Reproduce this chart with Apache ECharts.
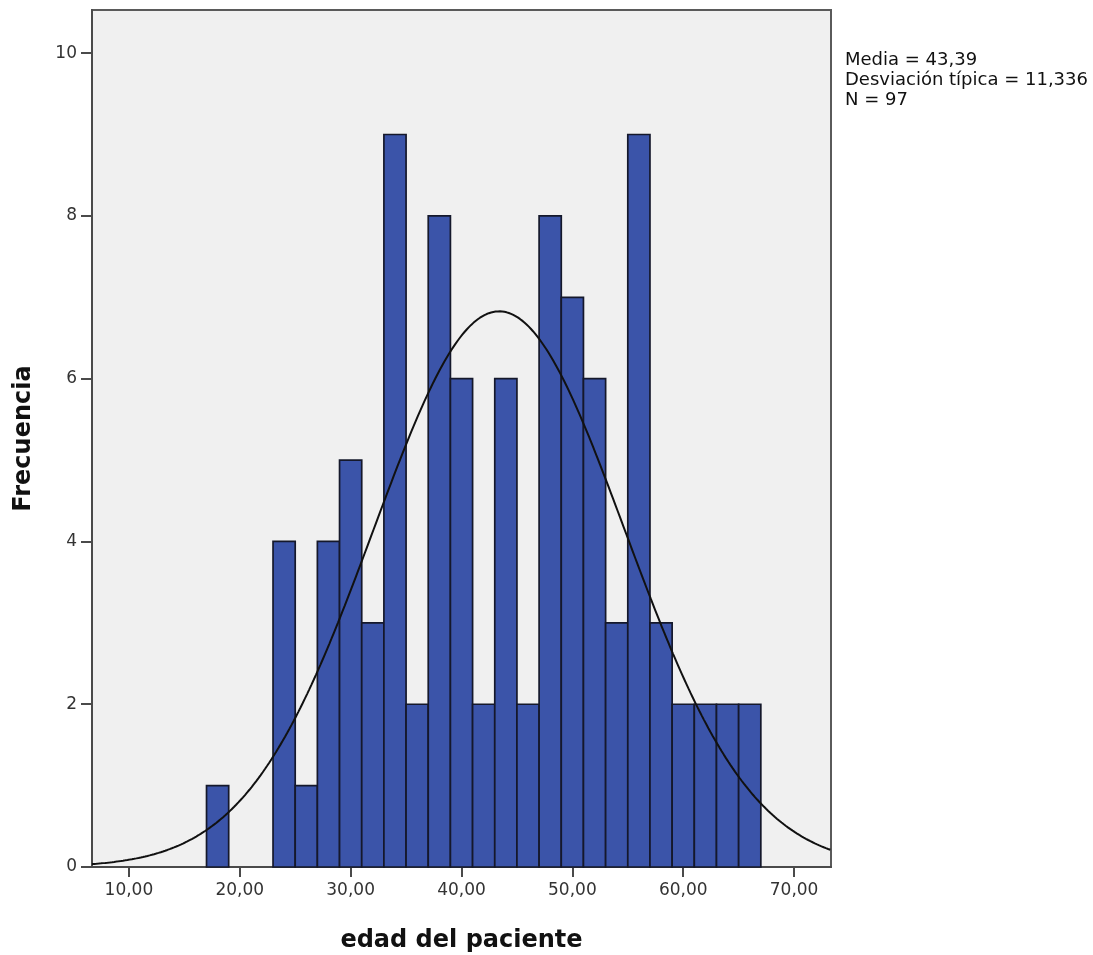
<!DOCTYPE html>
<html>
<head>
<meta charset="utf-8">
<script src="https://cdn.jsdelivr.net/npm/echarts@6/dist/echarts.min.js"></script>
<style>
  html, body { margin: 0; padding: 0; background: #fff; }
  #chart { width: 1093px; height: 955px; }
</style>
</head>
<body>
<div id="chart"></div>
<script>
// Histogram of patient age: bins of width 2 years
const binStarts = [17, 19, 21, 23, 25, 27, 29, 31, 33, 35, 37, 39, 41, 43, 45, 47, 49, 51, 53, 55, 57, 59, 61, 63, 65];
const counts    = [1, 0, 0, 4, 1, 4, 5, 3, 9, 2, 8, 6, 2, 6, 2, 8, 7, 6, 3, 9, 3, 2, 2, 2, 2];
const binWidth = 2;

// Summary statistics shown beside the plot
const mean = 43.39;
const stdDev = 11.336;
const n = 97;

const xTicks = [10, 20, 30, 40, 50, 60, 70];
const yTicks = [0, 2, 4, 6, 8, 10];

const xMin = 6.67, xMax = 73.33;
const yMin = 0, yMax = 10.53;

// Normal curve scaled to the histogram (N * bin width * density)
const curve = [];
for (let x = xMin; x <= xMax + 1e-9; x += 0.2) {
  const z = (x - mean) / stdDev;
  const y = n * binWidth * Math.exp(-0.5 * z * z) / (stdDev * Math.sqrt(2 * Math.PI));
  curve.push([x, y]);
}

const barData = binStarts.map((s, i) => [s, s + binWidth, counts[i]]);

const fmt = v => v.toFixed(2).replace('.', ',');
const FONT = 'DejaVu Sans, Verdana, sans-serif';

const chart = echarts.init(document.getElementById('chart'), null, { renderer: 'canvas' });
chart.setOption({
  animation: false,
  textStyle: { fontFamily: FONT },
  grid: {
    left: 92, right: 262, top: 10, bottom: 88,
    outerBoundsMode: 'none',
    containLabel: false,
    show: true,
    backgroundColor: '#f0f0f0',
    borderColor: '#5a5a5a',
    borderWidth: 2
  },
  xAxis: {
    type: 'value',
    min: xMin, max: xMax,
    name: 'edad del paciente',
    nameLocation: 'middle',
    nameGap: 62,
    nameTextStyle: { fontSize: 24, fontWeight: 'bold', color: '#111', fontFamily: FONT },
    splitLine: { show: false },
    axisLine: { show: true, onZero: false, lineStyle: { color: '#4a4a4a', width: 2 } },
    axisTick: { show: true, length: 10, customValues: xTicks, lineStyle: { color: '#4a4a4a', width: 2 } },
    axisLabel: { customValues: xTicks, formatter: fmt, fontSize: 17, color: '#333', margin: 15 }
  },
  yAxis: {
    type: 'value',
    min: yMin, max: yMax,
    name: 'Frecuencia',
    nameLocation: 'middle',
    nameGap: 56,
    nameTextStyle: { fontSize: 24, fontWeight: 'bold', color: '#111', fontFamily: FONT },
    splitLine: { show: false },
    axisLine: { show: true, lineStyle: { color: '#4a4a4a', width: 2 } },
    axisTick: { show: true, length: 11, customValues: yTicks, lineStyle: { color: '#4a4a4a', width: 2 } },
    axisLabel: { customValues: yTicks, fontSize: 17, color: '#333', margin: 15 }
  },
  series: [
    {
      type: 'custom',
      data: barData,
      encode: { x: [0, 1], y: 2 },
      renderItem: function (params, api) {
        const h = api.value(2);
        if (!h) return null;
        const p0 = api.coord([api.value(0), 0]);
        const p1 = api.coord([api.value(1), h]);
        return {
          type: 'rect',
          shape: { x: p0[0], y: p1[1], width: p1[0] - p0[0], height: p0[1] - p1[1] },
          style: { fill: '#3b54a9', stroke: '#15182b', lineWidth: 1.7 }
        };
      },
      z: 2
    },
    {
      type: 'line',
      data: curve,
      showSymbol: false,
      symbol: 'none',
      lineStyle: { color: '#111', width: 2 },
      z: 3
    }
  ],
  graphic: [
    {
      type: 'text',
      left: 845, top: 50,
      style: {
        text: 'Media = ' + fmt(mean) + '\nDesviación típica = ' + stdDev.toFixed(3).replace('.', ',') + '\nN = ' + n,
        font: '18px ' + FONT,
        fill: '#111',
        lineHeight: 20
      }
    }
  ]
});
</script>
</body>
</html>
